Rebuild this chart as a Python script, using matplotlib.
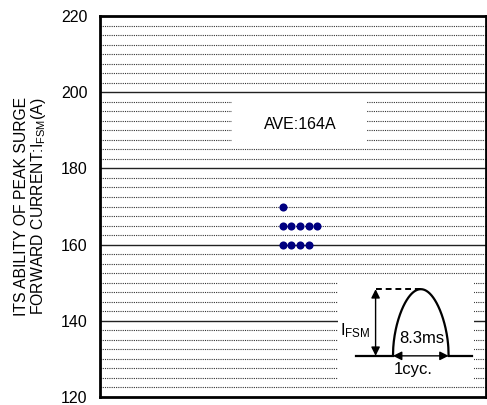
import numpy as np
import matplotlib
matplotlib.use("Agg")
import matplotlib.pyplot as plt
from matplotlib.patches import Rectangle

plt.rcParams['font.family'] = ['Liberation Sans', 'DejaVu Sans']
plt.rcParams['mathtext.fontset'] = 'custom'
plt.rcParams['mathtext.rm'] = 'Liberation Sans'

# data
sample_x = [21, 21, 22, 23, 24, 25, 21, 22, 23, 24]
sample_y = [170, 165, 165, 165, 165, 165, 160, 160, 160, 160]
y_ticks = [120, 140, 160, 180, 200, 220]
ave_label = "AVE:164A"

fig = plt.figure(figsize=(4.87, 4.05), dpi=100)
ax = fig.add_axes([100/487, 8/405, 386/487, 381/405])
ax.set_xlim(0, 44.4)
ax.set_ylim(120, 220)

# grid lines
minor = np.arange(120, 220.01, 2.5)
for v in minor:
    if v in (120, 220):
        continue
    if abs(v % 20) < 1e-9:
        ax.axhline(v, color='#222222', lw=1.0, zorder=1)
    else:
        ax.axhline(v, color='#333333', lw=0.8, ls=(0, (1, 1)), zorder=1)

# AVE box
ax.add_patch(Rectangle((15.2, 185.8), 15.5, 11.8, facecolor='white', edgecolor='none', zorder=2))
ax.text(23.0, 191.6, ave_label, ha='center', va='center', fontsize=11.5, zorder=3)

# inset box
ax.add_patch(Rectangle((27.4, 123.9), 15.6, 27.4, facecolor='white', edgecolor='none', zorder=2))
base_y, peak_y = 130.8, 148.3
x0, x1 = 33.7, 40.1
ax.plot([29.5, x0], [base_y, base_y], color='black', lw=1.6, zorder=3)
ax.plot([x1, 42.8], [base_y, base_y], color='black', lw=1.6, zorder=3)
t = np.linspace(0, 1, 200)
ax.plot(x0 + (x1 - x0) * t, base_y + (peak_y - base_y) * np.sin(np.pi * t) ** 0.5,
        color='black', lw=1.6, zorder=3)
ax.plot([31.7, 36.9], [peak_y, peak_y], color='black', lw=1.4, ls=(0, (3, 2)), zorder=3)
ax.annotate('', xy=(31.7, peak_y), xytext=(31.7, base_y),
            arrowprops=dict(arrowstyle='<|-|>', color='black', lw=1.0,
                            shrinkA=0, shrinkB=0, mutation_scale=13), zorder=3)
ax.annotate('', xy=(x0, base_y), xytext=(x1, base_y),
            arrowprops=dict(arrowstyle='<|-|>', color='black', lw=1.0,
                            shrinkA=0, shrinkB=0, mutation_scale=13), zorder=3)
ax.text(27.6, 137.3, r'I$\mathregular{_{FSM}}$', ha='left', va='center', fontsize=12, zorder=3)
ax.text(37.0, 135.4, '8.3ms', ha='center', va='center', fontsize=12, zorder=3)
ax.text(36.0, 127.3, '1cyc.', ha='center', va='center', fontsize=12, zorder=3)

# samples
ax.scatter(sample_x, sample_y, s=34, color='#000080', zorder=4, linewidths=0)

ax.set_xticks([])
ax.set_yticks(y_ticks)
ax.tick_params(axis='y', length=0, pad=9, labelsize=11.5)
for s in ax.spines.values():
    s.set_linewidth(2)
    s.set_color('black')

ax.set_ylabel('ITS ABILITY OF PEAK SURGE\nFORWARD CURRENT:I$\\mathregular{_{FSM}}$(A)',
              fontsize=11.3, linespacing=1.0, labelpad=9.5)

fig.savefig('out.png', dpi=100)
